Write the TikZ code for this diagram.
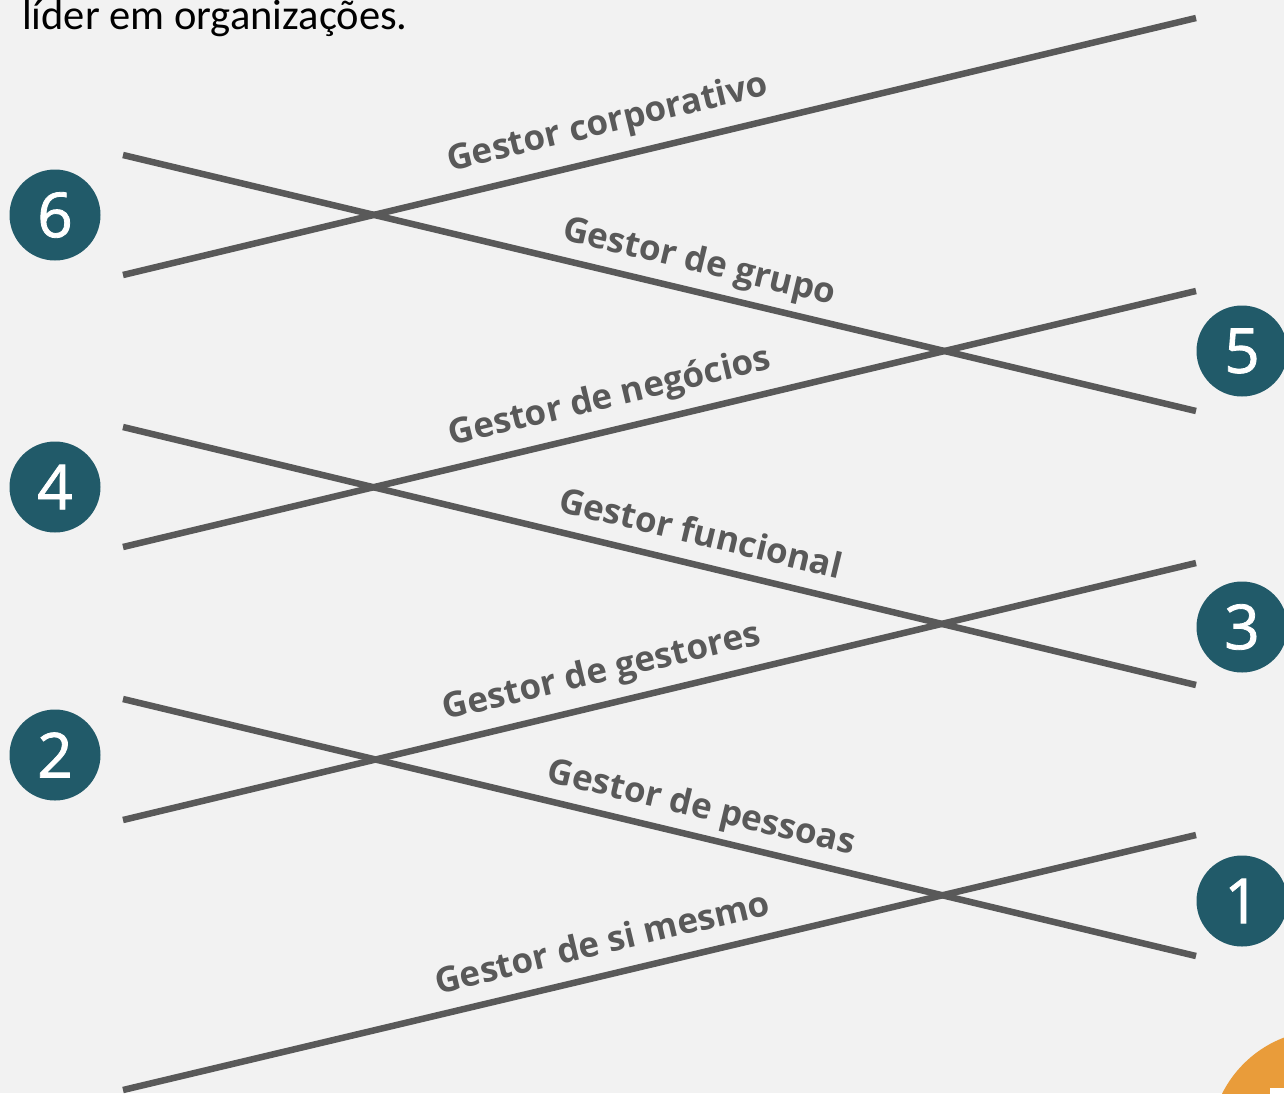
\documentclass[tikz,border=0pt]{standalone}
\usepackage{fontspec}
\setmainfont{Open Sans}
\newfontfamily\topfont{Carlito}
\newfontfamily\numfont[FakeBold=1.3]{Open Sans}
\definecolor{bg}{HTML}{F2F2F2}
\definecolor{linegray}{HTML}{595959}
\definecolor{teal}{HTML}{215A69}
\definecolor{orangeacc}{HTML}{E99C3A}
\begin{document}
\begin{tikzpicture}[x=1pt,y=-1pt,
  bar/.style={draw=linegray, line width=6.5pt, line cap=butt},
  num/.style={circle, fill=teal, minimum size=91pt, inner sep=0pt, text=white, font=\numfont\fontsize{62}{62}\selectfont},
  lbl/.style={text=linegray, font=\fontsize{35}{35}\selectfont\bfseries, inner sep=0pt, anchor=base},
  up/.style={lbl, rotate=13.5},
  down/.style={lbl, rotate=-13.5}]
\useasboundingbox (0,0) rectangle (1284,1093);
\clip (0,0) rectangle (1284,1093);
\fill[bg] (0,0) rectangle (1284,1093);
% top text
\node[anchor=base west, inner sep=0pt, font=\topfont\fontsize{42.5}{42.5}\selectfont] (top) at (22,29) {líder em organizações.};
% orange accent
\fill[orangeacc] (1325,1145) circle (115);
\fill[white] (1270,1088) rectangle (1290,1100);
% line endpoints
\coordinate (a1) at (123,275); \coordinate (a2) at (1196,18);
\coordinate (b1) at (123,155); \coordinate (b2) at (1196,411);
\coordinate (c1) at (123,547); \coordinate (c2) at (1196,291);
\coordinate (d1) at (123,427); \coordinate (d2) at (1196,685);
\coordinate (e1) at (123,820); \coordinate (e2) at (1196,563);
\coordinate (f1) at (123,699); \coordinate (f2) at (1196,956);
\coordinate (g1) at (123,1090); \coordinate (g2) at (1196,835);
\draw[bar] (a1) -- (a2);
\draw[bar] (b1) -- (b2);
\draw[bar] (c1) -- (c2);
\draw[bar] (d1) -- (d2);
\draw[bar] (e1) -- (e2);
\draw[bar] (f1) -- (f2);
\draw[bar] (g1) -- (g2);
% labels
\node[up]   (la) at (610,133) {Gestor corporativo};
\node[down] (lb) at (697,272) {Gestor de grupo};
\node[up]   (lc) at (612,407) {Gestor de negócios};
\node[down] (ld) at (698,545) {Gestor funcional};
\node[up]   (le) at (604,682) {Gestor de gestores};
\node[down] (lf) at (699,818) {Gestor de pessoas};
\node[up]   (lg) at (605,954) {Gestor de si mesmo};
% number circles
\node[num] (n6) at (55,215) {6};
\node[num] (n4) at (55,487) {4};
\node[num] (n2) at (55,755) {2};
\node[num] (n5) at (1242,351) {5};
\node[num] (n3) at (1242,627) {3};
\node[num] (n1) at (1242,901) {1};
\end{tikzpicture}
\end{document}
